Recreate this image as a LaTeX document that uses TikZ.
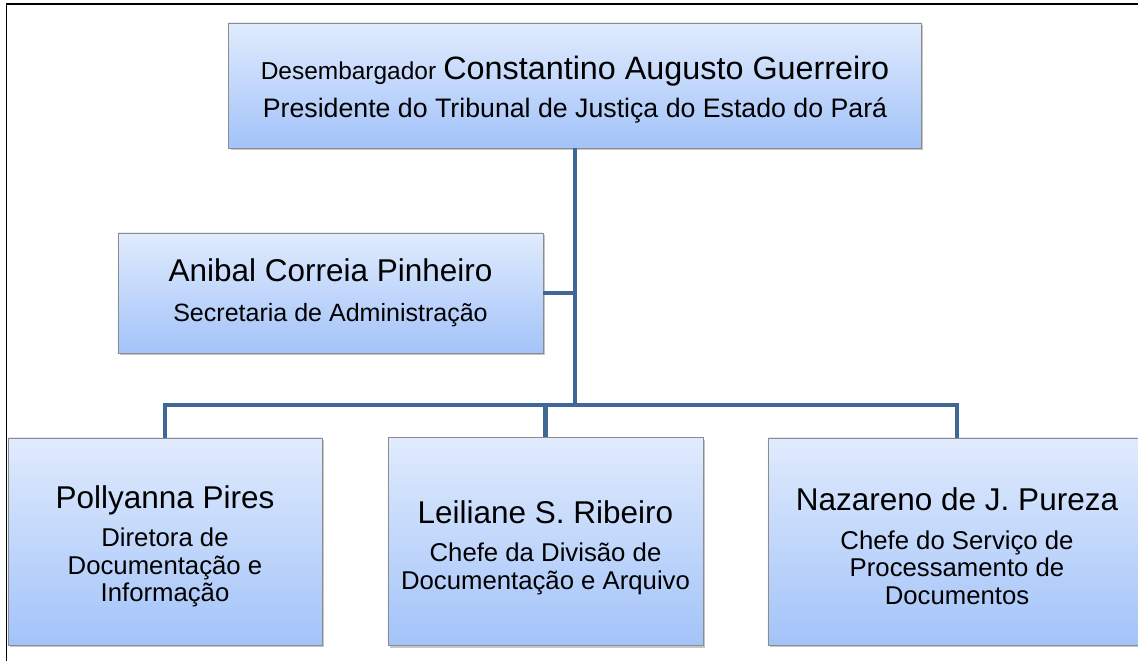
\documentclass[tikz,border=0pt]{standalone}
\usepackage{fontspec}
\setmainfont{Liberation Sans}
\usepackage{xcolor}
\usetikzlibrary{shadows}
\definecolor{boxtop}{HTML}{E0EBFD}
\definecolor{boxbot}{HTML}{A3C3F9}
\definecolor{boxline}{HTML}{8C8C8C}
\definecolor{link}{HTML}{3F6895}
\newcommand{\nomefont}{\fontsize{22.4}{26}\selectfont}
\newcommand{\cargofont}{\fontsize{18.3}{19.6}\selectfont}
\newcommand{\topo}[1]{\rule{0pt}{#1}}
\tikzset{
  cargo/.style={draw=boxline, line width=0.6pt, top color=boxtop, bottom color=boxbot,
    drop shadow={shadow xshift=1.2pt, shadow yshift=-1.6pt, opacity=0.45},
    align=center, inner sep=0pt, font=\cargofont},
  elo/.style={draw=link, line width=3.5pt},
  moldura/.style={draw=black, line width=1.4pt}
}

\begin{document}
\begin{tikzpicture}[x=0.025cm, y=-0.025cm]
  \useasboundingbox (0,0) rectangle (1138,661);
  \draw[moldura] (1138,4) -- (6.5,4) -- (6.5,661);

  \node[cargo, minimum width=17.3cm, minimum height=3.125cm] (pres) at (575,85.5)
    {\topo{22pt}{\fontsize{17.4}{19.6}\selectfont Desembargador} {\fontsize{23}{26}\selectfont Constantino Augusto Guerreiro}\\[7.6pt]
     {\fontsize{19}{19.6}\selectfont Presidente do Tribunal de Justiça do Estado do Pará}};
  \node[cargo, minimum width=10.625cm, minimum height=3cm] (secad) at (330.5,293)
    {{\nomefont Anibal Correia Pinheiro}\\[8.9pt]{\fontsize{17.8}{19.6}\selectfont Secretaria de Administração}};

  \node[cargo, minimum width=7.85cm, minimum height=5.175cm] (dir) at (165,541.5)
    {\topo{23pt}{\nomefont Pollyanna Pires}\\[7.8pt]Diretora de\\Documentação e\\Informação};
  \node[cargo, minimum width=7.875cm, minimum height=5.2cm] (div) at (545.5,541.5)
    {\topo{25pt}{\nomefont Leiliane S. Ribeiro}\\[7.8pt]Chefe da Divisão de\\Documentação e Arquivo};
  \node[cargo, minimum width=9.45cm, minimum height=5.175cm] (proc) at (957,541.5)
    {\topo{23pt}{\nomefont Nazareno de J. Pureza}\\[7.8pt]Chefe do Serviço de\\Processamento de\\Documentos};

  % ligacoes
  \coordinate (juncao) at (pres.south |- 0,405);
  \draw[elo] (pres.south) -- (juncao);
  \draw[elo] (secad.east) -- (secad.east -| juncao);
  \draw[elo] (dir.north) |- (juncao) -| (proc.north);
  \draw[elo] (div.north) -- (div.north |- juncao);
\end{tikzpicture}
\end{document}
